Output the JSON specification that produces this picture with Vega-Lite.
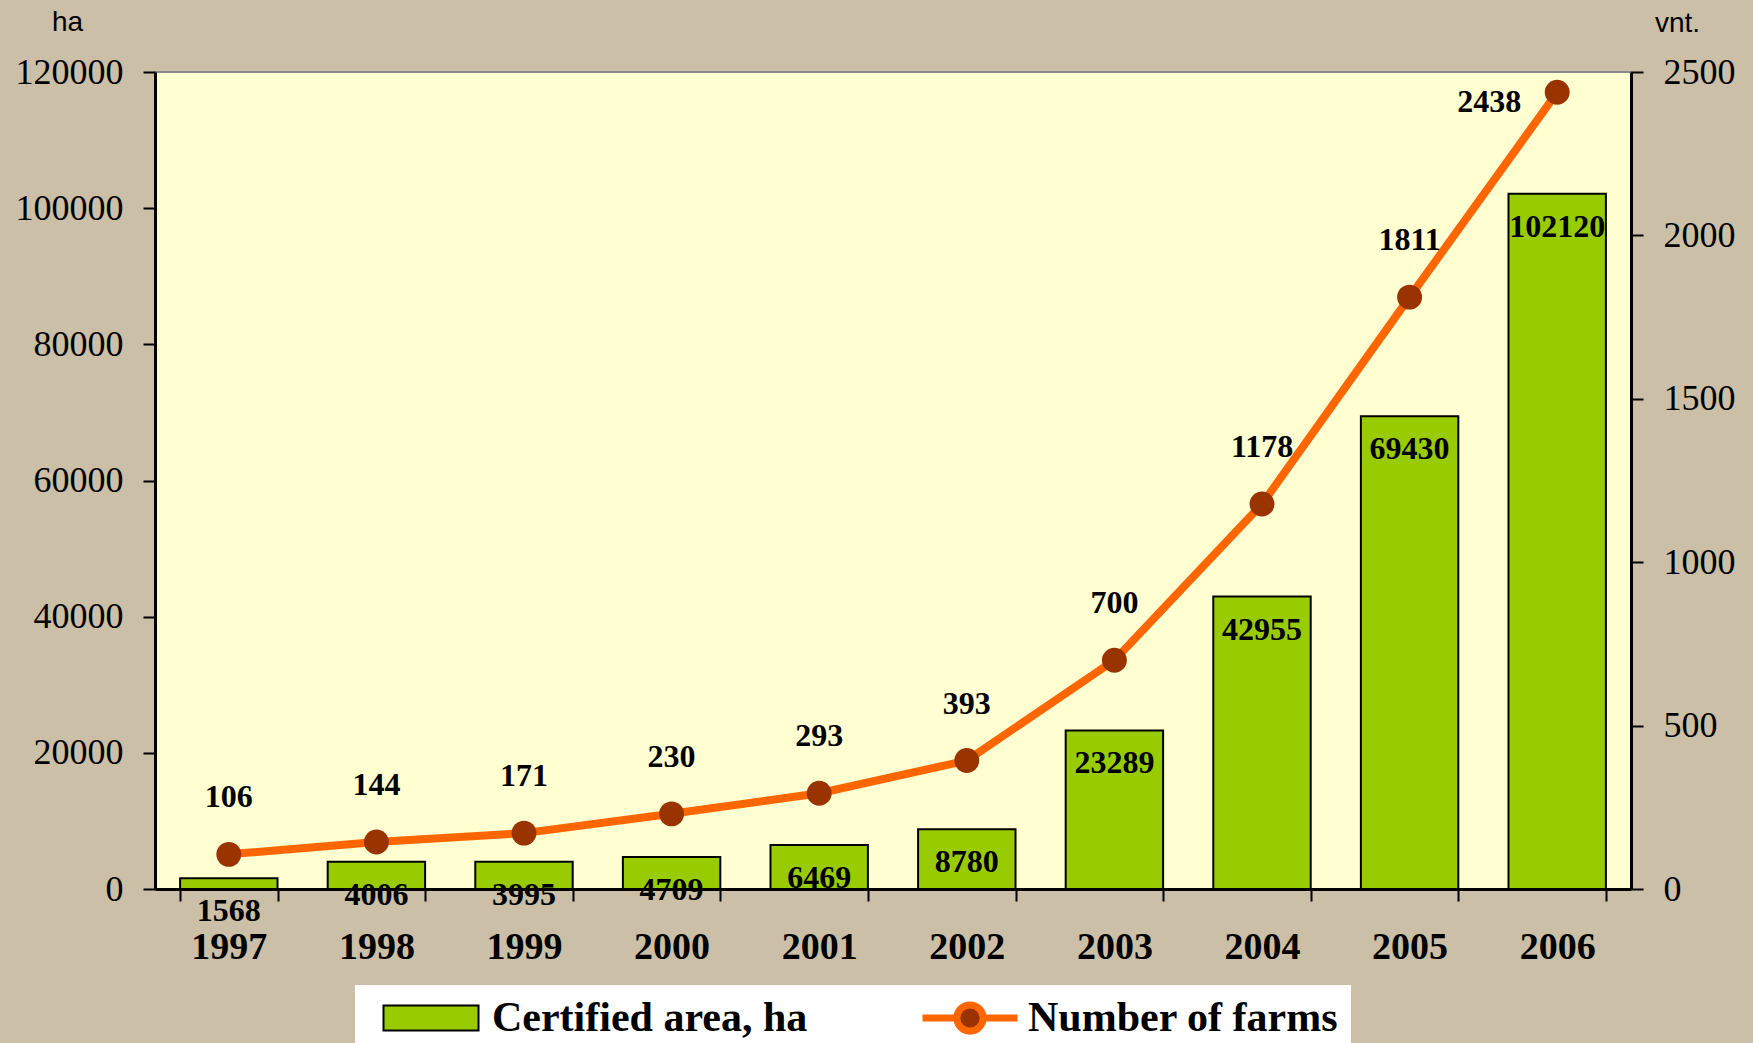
{
  "$schema": "https://vega.github.io/schema/vega-lite/v6.json",
  "width": 1476,
  "height": 817,
  "autosize": "none",
  "padding": {"left": 155, "top": 72, "right": 122, "bottom": 154},
  "background": "#cbbfa7",
  "config": {
    "view": {"fill": "#ffffd2", "stroke": "#8a8a8a", "strokeWidth": 2},
    "font": "Liberation Serif"
  },
  "data": {
    "values": [
      {"year": "1997", "area": 1568, "farms": 106},
      {"year": "1998", "area": 4006, "farms": 144},
      {"year": "1999", "area": 3995, "farms": 171},
      {"year": "2000", "area": 4709, "farms": 230},
      {"year": "2001", "area": 6469, "farms": 293},
      {"year": "2002", "area": 8780, "farms": 393},
      {"year": "2003", "area": 23289, "farms": 700},
      {"year": "2004", "area": 42955, "farms": 1178},
      {"year": "2005", "area": 69430, "farms": 1811},
      {"year": "2006", "area": 102120, "farms": 2438}
    ]
  },
  "encoding": {
    "x": {
      "field": "year",
      "type": "nominal",
      "sort": null,
      "scale": {"paddingInner": 0.34, "paddingOuter": 0.17},
      "axis": {
        "title": null,
        "labelAngle": 0,
        "labelFont": "Liberation Serif",
        "labelFontWeight": "bold",
        "labelFontSize": 38,
        "labelColor": "black",
        "tickBand": "extent",
        "tickSize": 12,
        "tickColor": "black",
        "tickWidth": 2,
        "domainColor": "black",
        "domainWidth": 3,
        "labelPadding": 27
      }
    }
  },
  "layer": [
    {
      "encoding": {
        "y": {
          "field": "area",
          "type": "quantitative",
          "scale": {"domain": [0, 120000], "nice": false},
          "axis": {
            "title": "ha",
            "titleAngle": 0,
            "titleX": -88,
            "titleY": -50,
            "titleFont": "Liberation Sans",
            "titleFontSize": 28,
            "titleFontWeight": "normal",
            "titleColor": "black",
            "titleAlign": "center",
            "titleBaseline": "middle",
            "values": [0, 20000, 40000, 60000, 80000, 100000, 120000],
            "format": "d",
            "grid": false,
            "labelFont": "Liberation Serif",
            "labelFontSize": 36,
            "labelColor": "black",
            "tickSize": 12,
            "tickColor": "black",
            "tickWidth": 2,
            "domainColor": "black",
            "domainWidth": 3,
            "labelPadding": 20
          }
        }
      },
      "layer": [
        {
          "mark": {"type": "bar", "stroke": "black", "strokeWidth": 2},
          "encoding": {
            "fill": {
              "datum": "Certified area, ha",
              "type": "nominal",
              "scale": {"domain": ["Certified area, ha"], "range": ["#99cc00"]},
              "legend": {
                "orient": "none",
                "legendX": 200,
                "legendY": 913,
                "direction": "horizontal",
                "fillColor": "white",
                "padding": 12,
                "title": null,
                "zindex": 2,
                "labelFont": "Liberation Serif",
                "labelFontWeight": "bold",
                "labelFontSize": 42,
                "labelColor": "black",
                "labelLimit": 600,
                "symbolType": "M-3.8,-1H3.8V1H-3.8Z",
                "symbolSize": 625,
                "symbolOffset": 43,
                "labelOffset": 40,
                "symbolStrokeColor": "black",
                "symbolStrokeWidth": 2,
                "symbolOpacity": 1
              }
            }
          }
        },
        {
          "mark": {"type": "text", "fontWeight": "bold", "fontSize": 32, "font": "Liberation Serif", "dy": 33, "baseline": "middle", "color": "black"},
          "encoding": {"text": {"field": "area", "type": "quantitative", "format": "d"}}
        }
      ]
    },
    {
      "encoding": {
        "y": {
          "field": "farms",
          "type": "quantitative",
          "scale": {"domain": [0, 2500], "nice": false},
          "axis": {
            "orient": "right",
            "title": "vnt.",
            "titleAngle": 0,
            "titleX": 46,
            "titleY": -49,
            "titleFont": "Liberation Sans",
            "titleFontSize": 28,
            "titleFontWeight": "normal",
            "titleColor": "black",
            "titleAlign": "center",
            "titleBaseline": "middle",
            "values": [0, 500, 1000, 1500, 2000, 2500],
            "format": "d",
            "grid": false,
            "labelFont": "Liberation Serif",
            "labelFontSize": 36,
            "labelColor": "black",
            "tickSize": 12,
            "tickColor": "black",
            "tickWidth": 2,
            "domainColor": "black",
            "domainWidth": 3,
            "labelPadding": 20
          }
        }
      },
      "layer": [
        {
          "mark": {"type": "line", "strokeWidth": 8},
          "encoding": {
            "stroke": {
              "datum": "Number of farms",
              "type": "nominal",
              "scale": {"domain": ["Number of farms"], "range": ["#ff6600"]},
              "legend": {
                "orient": "none",
                "legendX": 645,
                "legendY": 913,
                "direction": "horizontal",
                "fillColor": "white",
                "padding": 12,
                "title": null,
                "zindex": 1,
                "labelFont": "Liberation Serif",
                "labelFontWeight": "bold",
                "labelFontSize": 42,
                "labelColor": "black",
                "labelLimit": 600,
                "symbolType": "M-3.8,0H-1.05M1.05,0H3.8M1.05,0A1.05,1.05 0 1 1 -1.05,0A1.05,1.05 0 1 1 1.05,0Z",
                "symbolSize": 625,
                "symbolOffset": 137,
                "labelOffset": 37,
                "symbolStrokeWidth": 7,
                "symbolFillColor": "#993300",
                "symbolOpacity": 1,
                "encode": {
                  "symbols": {
                    "update": {
                      "fill": {"value": "#993300"},
                      "fillOpacity": {"value": 1}
                    }
                  }
                }
              }
            }
          }
        },
        {
          "mark": {"type": "point", "filled": true, "size": 620, "color": "#993300", "opacity": 1}
        },
        {
          "transform": [{"filter": "datum.year != '2006'"}],
          "mark": {"type": "text", "fontWeight": "bold", "fontSize": 32, "font": "Liberation Serif", "dy": -57, "baseline": "middle", "color": "black"},
          "encoding": {"text": {"field": "farms", "type": "quantitative", "format": "d"}}
        },
        {
          "transform": [{"filter": "datum.year == '2006'"}],
          "mark": {"type": "text", "fontWeight": "bold", "fontSize": 32, "font": "Liberation Serif", "dx": -68, "dy": 10, "baseline": "middle", "color": "black"},
          "encoding": {"text": {"field": "farms", "type": "quantitative", "format": "d"}}
        }
      ]
    }
  ],
  "resolve": {"scale": {"y": "independent"}}
}
